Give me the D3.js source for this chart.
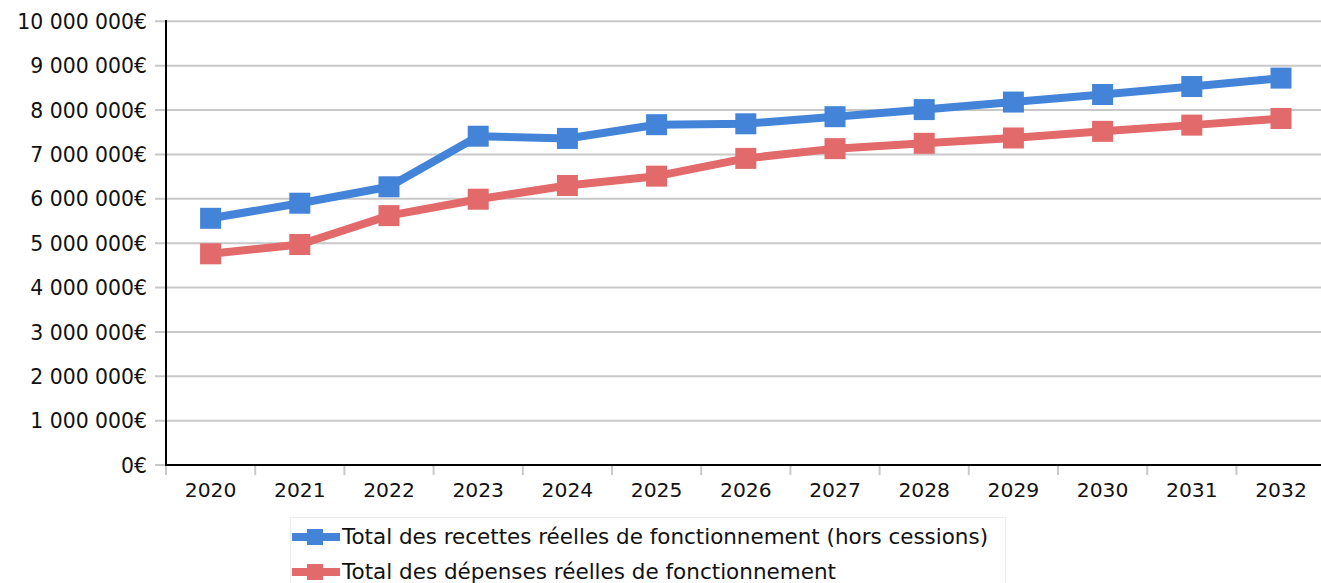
<!DOCTYPE html>
<html>
<head>
<meta charset="utf-8">
<script src="https://cdn.jsdelivr.net/npm/d3@7"></script>
<style>
  html, body { margin: 0; padding: 0; background: #fff; }
  svg { display: block; font-family: "DejaVu Sans", sans-serif; }
</style>
</head>
<body>
<svg id="chart" width="1321" height="583"></svg>
<script>
const years = ["2020","2021","2022","2023","2024","2025","2026","2027","2028","2029","2030","2031","2032"];
const recettes = [5560000, 5900000, 6270000, 7410000, 7360000, 7670000, 7690000, 7850000, 8010000, 8180000, 8350000, 8530000, 8720000];
const depenses = [4760000, 4970000, 5620000, 5990000, 6300000, 6510000, 6910000, 7130000, 7250000, 7370000, 7520000, 7660000, 7810000];
const yTicks = [0, 1000000, 2000000, 3000000, 4000000, 5000000, 6000000, 7000000, 8000000, 9000000, 10000000];
const seriesNames = ["Total des recettes réelles de fonctionnement (hors cessions)", "Total des dépenses réelles de fonctionnement"];
const seriesColors = ["#4384d8", "#e26a6a"];

(function () {
const svg = d3.select("#chart");
const W = 1321;
const plotLeft = 166, plotBottom = 465, plotTop = 21.3, band = 89.2;

const x = d3.scaleBand().domain(years).range([plotLeft, plotLeft + band * years.length]).paddingInner(0).paddingOuter(0);
const y = d3.scaleLinear().domain([0, 10000000]).range([plotBottom, plotTop]);

const loc = d3.formatLocale({decimal: ",", thousands: " ", grouping: [3], currency: ["", "€"]});
const fmt = loc.format(",");

// gridlines
svg.append("g").selectAll("line").data(yTicks).join("line")
  .attr("x1", 155).attr("x2", W)
  .attr("y1", d => y(d)).attr("y2", d => y(d))
  .attr("stroke", "#c8c8c8").attr("stroke-width", 2);

// y labels
const yAxis = d3.axisLeft(y).tickValues(yTicks).tickSize(0).tickPadding(0).tickFormat(d => fmt(d) + "€");
const gy = svg.append("g").attr("transform", `translate(147,0)`).call(yAxis);
gy.select(".domain").remove();
gy.selectAll("text").attr("font-family", "DejaVu Sans").attr("font-size", 20.4).attr("fill", "#111").attr("dy", "0.35em");

// x ticks at band boundaries
const bounds = years.map(d => x(d));
svg.append("g").selectAll("line").data(bounds).join("line")
  .attr("x1", d => d).attr("x2", d => d)
  .attr("y1", plotBottom).attr("y2", plotBottom + 10)
  .attr("stroke", "#c8c8c8").attr("stroke-width", 2);

// x labels via axis
const xAxis = d3.axisBottom(x).tickSize(0).tickPadding(0);
const gx = svg.append("g").attr("transform", `translate(0,${plotBottom})`).call(xAxis);
gx.select(".domain").remove();
gx.selectAll("text").attr("font-family", "DejaVu Sans").attr("font-size", 20.3).attr("fill", "#111").attr("dy", null).attr("y", 32);

// axis lines
svg.append("line").attr("x1", plotLeft).attr("x2", W).attr("y1", plotBottom).attr("y2", plotBottom).attr("stroke", "#000").attr("stroke-width", 2);
svg.append("line").attr("x1", plotLeft).attr("x2", plotLeft).attr("y1", 20).attr("y2", plotBottom + 1).attr("stroke", "#000").attr("stroke-width", 2);

const cx = d => x(d) + x.bandwidth() / 2;
const line = d3.line().x(d => cx(d.year)).y(d => y(d.v));
[recettes, depenses].forEach((vals, i) => {
  const data = years.map((yr, j) => ({year: yr, v: vals[j]}));
  const g = svg.append("g");
  g.append("path").datum(data).attr("d", line).attr("fill", "none")
    .attr("stroke", seriesColors[i]).attr("stroke-width", 8).attr("stroke-linejoin", "round");
  g.selectAll("rect").data(data).join("rect")
    .attr("x", d => cx(d.year) - 10.5).attr("y", d => y(d.v) - 10.5)
    .attr("width", 21).attr("height", 21).attr("fill", seriesColors[i]);
});

// legend
const lg = svg.append("g");
lg.append("rect").attr("x", 290.5).attr("y", 517.5).attr("width", 715).attr("height", 80)
  .attr("fill", "#fff").attr("stroke", "#ececec").attr("stroke-width", 1);
const legendY = [537, 572];
const legendW = [646, 494];
seriesNames.forEach((name, i) => {
  const yy = legendY[i];
  lg.append("line").attr("x1", 292).attr("x2", 340).attr("y1", yy).attr("y2", yy)
    .attr("stroke", seriesColors[i]).attr("stroke-width", 8);
  lg.append("rect").attr("x", 307).attr("y", yy - 8).attr("width", 16).attr("height", 16).attr("fill", seriesColors[i]);
  lg.append("text").attr("x", 342).attr("y", yy).attr("dy", "0.35em")
    .attr("font-size", 21).attr("fill", "#111")
    .attr("textLength", legendW[i]).attr("lengthAdjust", "spacingAndGlyphs")
    .text(name);
});
})();
</script>
</body>
</html>
